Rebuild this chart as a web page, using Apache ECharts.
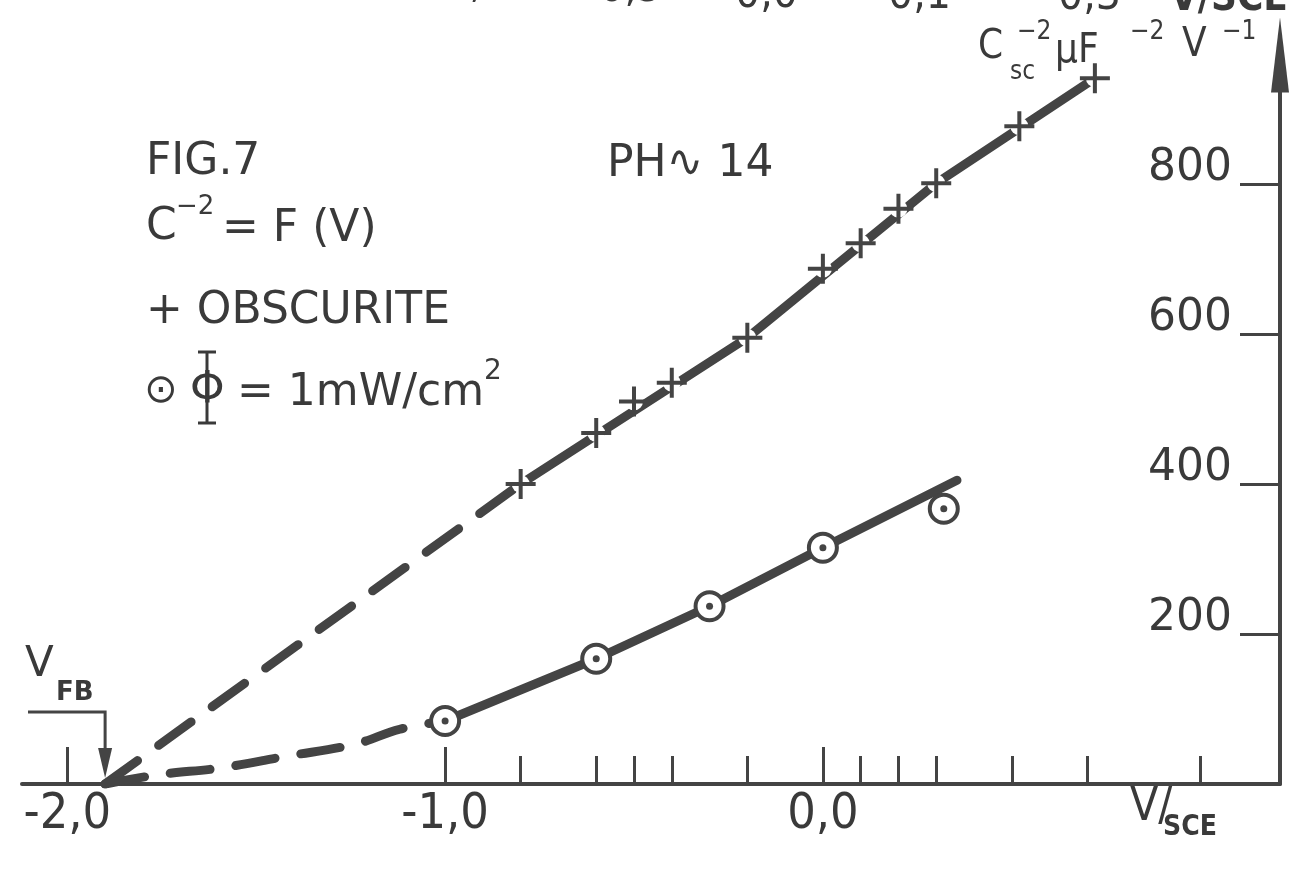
<!DOCTYPE html>
<html><head><meta charset="utf-8">
<script src="https://cdn.jsdelivr.net/npm/echarts@6/dist/echarts.min.js"></script>
<style>html,body{margin:0;padding:0;background:#fff}#c{width:1295px;height:872px}</style>
</head><body><div id="c"></div>
<script>
// ---- data ----
const darkV = [-0.8, -0.6, -0.5, -0.4, -0.2, 0.0, 0.1, 0.2, 0.3, 0.52, 0.72];
const darkC = [400, 468, 510, 535, 595, 687, 721, 767, 801, 877, 941];
const darkFitV = [-0.8, -0.2, 0.3, 0.72];
const darkFitC = [400, 595, 801, 941];
const vfbV = -1.9;
const darkExtrapV = [-1.9, -0.8];
const darkExtrapC = [0, 400];
const lightV = [-1.0, -0.6, -0.3, 0.0, 0.32];
const lightC = [84, 167, 237, 315, 367];
const lightFitV = [-1.0, -0.6, -0.3, 0.0, 0.355];
const lightFitC = [84, 167, 237, 315, 405];
const lightExtrapV = [-1.9, -1.75, -1.6, -1.42, -1.24, -1.12, -1.0];
const lightExtrapC = [0, 13, 21, 37, 53, 73, 84];
const majorTicks = [-2, -1, 0];
const minorTicks = [-0.8, -0.6, -0.5, -0.4, -0.2, 0.1, 0.2, 0.3, 0.5, 0.7, 1.0];
const yTicks = [200, 400, 600, 800];
const topCutLabels = ['-0,9', '-0,7', '-0,5', '0,0', '0,1', '0,3'];

const INK = '#444';
const TXT = '#3a3a3a';
const zip = (a, b) => a.map((v, i) => [v, b[i]]);
const plus = 'path://M-2,-15L2,-15L2,-2L15,-2L15,2L2,2L2,15L-2,15L-2,2L-15,2L-15,-2L-2,-2Z';
const narrow = "'Liberation Sans Narrow','DejaVu Sans Condensed',sans-serif";
const sans = "'DejaVu Sans',sans-serif";

const chart = echarts.init(document.getElementById('c'), null, {renderer: 'canvas'});
const xCommon = {type: 'value', min: -2.12, max: 1.21, position: 'bottom', splitLine: {show: false}};
const option = {
  animation: false,
  backgroundColor: '#fff',
  grid: {left: 22, right: 15, top: 55, bottom: 88},
  xAxis: [
    Object.assign({}, xCommon, {
      axisLine: {onZero: false, lineStyle: {color: INK, width: 4}},
      axisTick: {inside: true, length: 37, lineStyle: {color: INK, width: 3}, customValues: majorTicks},
      axisLabel: {customValues: majorTicks, margin: 6, color: TXT, fontSize: 50, fontFamily: narrow,
        formatter: v => Number(v).toFixed(1).replace('.', ',')}
    }),
    Object.assign({}, xCommon, {
      axisLine: {show: false, onZero: false},
      axisTick: {inside: true, length: 28, lineStyle: {color: INK, width: 3}, customValues: minorTicks},
      axisLabel: {show: false}
    })
  ],
  yAxis: {
    type: 'value', position: 'right', min: 0, max: 972,
    splitLine: {show: false},
    axisLine: {onZero: false, lineStyle: {color: INK, width: 4}, symbol: ['none', 'triangle'], symbolSize: [18, 75]},
    axisTick: {inside: true, length: 40, lineStyle: {color: INK, width: 3}, customValues: yTicks},
    axisLabel: {inside: true, customValues: yTicks, margin: 48, color: TXT, fontSize: 44, fontFamily: sans,
      verticalAlign: 'bottom', lineHeight: 30}
  },
  series: [
    {type: 'line', data: zip(darkExtrapV, darkExtrapC), symbol: 'none', z: 2,
      lineStyle: {color: INK, width: 9, type: [40, 26], cap: 'round'}},
    {type: 'line', data: zip(darkFitV, darkFitC), symbol: 'none', z: 2,
      lineStyle: {color: INK, width: 9, cap: 'round'}},
    {type: 'line', data: zip(lightExtrapV, lightExtrapC), symbol: 'none', smooth: 0.4, z: 2,
      lineStyle: {color: INK, width: 9, type: [40, 26], cap: 'round'}},
    {type: 'line', data: zip(lightFitV, lightFitC), symbol: 'none', z: 2,
      lineStyle: {color: INK, width: 9, cap: 'round'}},
    {type: 'scatter', data: zip(darkV, darkC), symbol: 'circle', symbolSize: 18, silent: true, z: 3,
      itemStyle: {color: '#fff', opacity: 1}},
    {type: 'scatter', data: zip(darkV, darkC), symbol: plus, symbolSize: 30, silent: true, z: 4,
      itemStyle: {color: INK, opacity: 1}},
    {type: 'scatter', data: zip(lightV, lightC), symbol: 'circle', symbolSize: 28, silent: true, z: 4,
      itemStyle: {color: '#fff', borderColor: INK, borderWidth: 4, opacity: 1}},
    {type: 'scatter', data: zip(lightV, lightC), symbol: 'circle', symbolSize: 7, silent: true, z: 5,
      itemStyle: {color: INK, opacity: 1}}
  ],
  graphic: []
};
chart.setOption(option);

// annotations
const T = (id, text, x, y, size, opts) => Object.assign({
  id, type: 'text', x, y, silent: true,
  style: Object.assign({text, fontSize: size, fontFamily: sans, fill: TXT, align: 'left', verticalAlign: 'middle'}, opts || {})
});
const p0 = chart.convertToPixel({xAxisIndex: 0, yAxisIndex: 0}, [vfbV, 0]);
const ax = p0[0];
const cutX = [272, 430, 585, 735, 888, 1058];
const cutBottom = [6, 8, 12, 18, 19, 20];
const g = [
  T('fig', 'FIG.7', 146, 163, 44),
  T('c2', 'C', 146, 228, 44),
  T('c2s', '−2', 176, 207, 26),
  T('fv', '= F (V)', 222, 230, 44),
  T('obs', '+ OBSCURITE', 146, 312, 44),
  T('phi1', '⊙', 144, 392, 40),
  T('phi2', 'Φ', 190, 392, 44),
  T('phi3', '= 1mW/cm', 237, 394, 44),
  T('phi4', '2', 484, 372, 28),
  T('ph', 'PH∿ 14', 607, 165, 44),
  {id: 'phibar', type: 'group', silent: true, children: [
    {type: 'line', shape: {x1: 207, y1: 352, x2: 207, y2: 423}, style: {stroke: TXT, lineWidth: 3}},
    {type: 'line', shape: {x1: 198, y1: 352, x2: 216, y2: 352}, style: {stroke: TXT, lineWidth: 3}},
    {type: 'line', shape: {x1: 198, y1: 423, x2: 216, y2: 423}, style: {stroke: TXT, lineWidth: 3}}
  ]},
  // y-axis title
  T('yC', 'C', 978, 48, 40, {fontFamily: narrow}),
  T('yCs', '−2', 1017, 32, 26, {fontFamily: narrow}),
  T('yCsub', 'sc', 1010, 72, 26, {fontFamily: narrow}),
  T('yMu', 'μF', 1055, 52, 40, {fontFamily: narrow}),
  T('yF2', '−2', 1130, 32, 26, {fontFamily: narrow}),
  T('yV', 'V', 1182, 46, 40, {fontFamily: narrow}),
  T('yV1', '−1', 1222, 32, 26, {fontFamily: narrow}),
  // x-axis title
  T('xV', 'V/', 1130, 808, 46, {fontFamily: narrow}),
  T('xS', 'SCE', 1163, 828, 28, {fontFamily: narrow, fontWeight: 'bold'}),
  // V_FB marker
  T('vfbV', 'V', 25, 665, 42),
  T('vfbS', 'FB', 56, 693, 26, {fontWeight: 'bold'}),
  {id: 'vfbArrow', type: 'group', silent: true, children: [
    {type: 'polyline', shape: {points: [[28, 712], [ax, 712], [ax, 756]]}, style: {stroke: INK, lineWidth: 3, fill: null}},
    {type: 'polygon', shape: {points: [[ax - 7, 748], [ax + 7, 748], [ax, p0[1] - 6]]}, style: {fill: INK}}
  ]},
  T('t7', 'V/SCE', 1170, 20, 40, {fontFamily: narrow, fontWeight: 'bold', verticalAlign: 'bottom'})
];
topCutLabels.forEach((s, i) => g.push(T('t' + i, s, cutX[i], cutBottom[i], 44, {fontFamily: narrow, verticalAlign: 'bottom'})));
chart.setOption({graphic: g});
</script></body></html>
